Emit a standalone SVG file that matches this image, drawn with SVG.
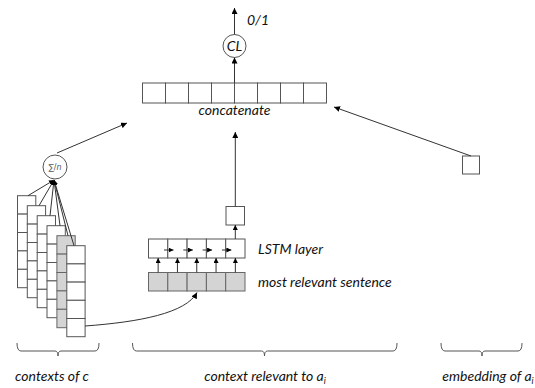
<svg xmlns="http://www.w3.org/2000/svg" width="535" height="388" viewBox="0 0 535 388">
<style>
.c{fill:#fff;stroke:#555;stroke-width:1}
.g{fill:#d4d4d4;stroke:#666;stroke-width:1}
.ln{fill:none;stroke:#333;stroke-width:1}
.br{fill:none;stroke:#555;stroke-width:1}
.t{font-family:Lato,"Liberation Sans",sans-serif;font-style:italic;font-size:14px;fill:#111}
</style>
<defs>
<marker id="ah" viewBox="0 0 10 10" refX="10" refY="5" markerWidth="6" markerHeight="6" orient="auto" markerUnits="userSpaceOnUse">
<path d="M0,0 L10,5 L0,10 z" fill="#000"/>
</marker>
<marker id="as" viewBox="0 0 10 10" refX="10" refY="5" markerWidth="5" markerHeight="5" orient="auto" markerUnits="userSpaceOnUse">
<path d="M0,0 L10,5 L0,10 z" fill="#000"/>
</marker>
</defs>

<g id="stacks">
<g id="stack1"><rect class="c" x="17.5" y="195.7" width="18.3" height="18.4"/><rect class="c" x="17.5" y="214.1" width="18.3" height="18.4"/><rect class="c" x="17.5" y="232.5" width="18.3" height="18.4"/><rect class="c" x="17.5" y="250.9" width="18.3" height="18.4"/><rect class="c" x="17.5" y="269.3" width="18.3" height="18.4"/></g>
<g id="stack2"><rect class="c" x="27.3" y="205.7" width="18.3" height="18.4"/><rect class="c" x="27.3" y="224.1" width="18.3" height="18.4"/><rect class="c" x="27.3" y="242.5" width="18.3" height="18.4"/><rect class="c" x="27.3" y="260.9" width="18.3" height="18.4"/><rect class="c" x="27.3" y="279.3" width="18.3" height="18.4"/></g>
<g id="stack3"><rect class="c" x="37.2" y="215.7" width="18.3" height="18.4"/><rect class="c" x="37.2" y="234.1" width="18.3" height="18.4"/><rect class="c" x="37.2" y="252.5" width="18.3" height="18.4"/><rect class="c" x="37.2" y="270.9" width="18.3" height="18.4"/><rect class="c" x="37.2" y="289.3" width="18.3" height="18.4"/></g>
<g id="stack4"><rect class="c" x="47" y="225.7" width="18.3" height="18.4"/><rect class="c" x="47" y="244.1" width="18.3" height="18.4"/><rect class="c" x="47" y="262.5" width="18.3" height="18.4"/><rect class="c" x="47" y="280.9" width="18.3" height="18.4"/><rect class="c" x="47" y="299.3" width="18.3" height="18.4"/></g>
<g id="stack5"><rect class="g" x="56.9" y="235.7" width="18.3" height="18.4"/><rect class="g" x="56.9" y="254.1" width="18.3" height="18.4"/><rect class="g" x="56.9" y="272.5" width="18.3" height="18.4"/><rect class="g" x="56.9" y="290.9" width="18.3" height="18.4"/><rect class="g" x="56.9" y="309.3" width="18.3" height="18.4"/></g>
<g id="stack6"><rect class="c" x="66.8" y="245.7" width="18.3" height="18.2"/><rect class="c" x="66.8" y="263.9" width="18.3" height="18.2"/><rect class="c" x="66.8" y="282.1" width="18.3" height="18.2"/><rect class="c" x="66.8" y="300.3" width="18.3" height="18.2"/><rect class="c" x="66.8" y="318.5" width="18.3" height="18.2"/></g>
</g>

<g id="sum">
<circle cx="55" cy="167" r="12" fill="#fff" stroke="#555"/>
<text x="55" y="170" text-anchor="middle" font-family="'DejaVu Sans',sans-serif" font-size="8" fill="#555">∑/<tspan font-style="italic">n</tspan></text>
</g>

<g id="concat">
<rect class="c" x="142.5" y="83" width="23" height="20"/><rect class="c" x="165.5" y="83" width="23" height="20"/><rect class="c" x="188.5" y="83" width="23" height="20"/><rect class="c" x="211.5" y="83" width="23" height="20"/><rect class="c" x="234.5" y="83" width="23" height="20"/><rect class="c" x="257.5" y="83" width="23" height="20"/><rect class="c" x="280.5" y="83" width="23" height="20"/><rect class="c" x="303.5" y="83" width="23" height="20"/>
<text class="t" x="234.5" y="115" text-anchor="middle" font-size="13">concatenate</text>
</g>

<g id="cl">
<circle cx="234.5" cy="46" r="11.5" fill="#fff" stroke="#555"/>
<text class="t" x="234.5" y="50.5" text-anchor="middle" font-size="13">CL</text>
</g>
<text class="t" x="247" y="25" font-size="13">0/1</text>

<g id="lstm">
<rect class="c" x="148.5" y="239" width="19.3" height="19"/><rect class="c" x="167.8" y="239" width="19.3" height="19"/><rect class="c" x="187.1" y="239" width="19.3" height="19"/><rect class="c" x="206.4" y="239" width="19.3" height="19"/><rect class="c" x="225.7" y="239" width="19.3" height="19"/>
<text class="t" x="258" y="253.5">LSTM layer</text>
</g>
<g id="sentence">
<rect class="g" x="148.5" y="272.5" width="19.3" height="18.5"/><rect class="g" x="167.8" y="272.5" width="19.3" height="18.5"/><rect class="g" x="187.1" y="272.5" width="19.3" height="18.5"/><rect class="g" x="206.4" y="272.5" width="19.3" height="18.5"/><rect class="g" x="225.7" y="272.5" width="19.3" height="18.5"/>
<text class="t" x="258" y="287">most relevant sentence</text>
</g>
<g id="lstmout"><rect class="c" x="226" y="206.5" width="18.5" height="18.5"/></g>
<g id="embed"><rect class="c" x="462.5" y="156" width="17" height="18"/></g>

<g id="connectors">
<line class="ln" x1="234.5" y1="83" x2="234.5" y2="57.5" marker-end="url(#ah)"/>
<line class="ln" x1="234.5" y1="34.5" x2="234.5" y2="8" marker-end="url(#ah)"/>
<line class="ln" x1="235.3" y1="206.5" x2="235.3" y2="132" marker-end="url(#ah)"/>
<line class="ln" x1="235.3" y1="239" x2="235.3" y2="225" marker-end="url(#as)"/>
<line class="ln" x1="57" y1="153" x2="127" y2="123" marker-end="url(#ah)"/>
<line class="ln" x1="471" y1="156" x2="334" y2="107" marker-end="url(#ah)"/>
<line class="ln" x1="28" y1="195.7" x2="54" y2="180" marker-end="url(#as)"/>
<line class="ln" x1="39" y1="205.7" x2="54" y2="180" marker-end="url(#as)"/>
<line class="ln" x1="50" y1="215.7" x2="54" y2="180" marker-end="url(#as)"/>
<line class="ln" x1="60" y1="225.7" x2="54" y2="180" marker-end="url(#as)"/>
<line class="ln" x1="68" y1="235.7" x2="54" y2="180" marker-end="url(#as)"/>
<line class="ln" x1="74" y1="245.7" x2="54" y2="180" marker-end="url(#as)"/>
<g id="ups">
<line class="ln" x1="158.15" y1="272.5" x2="158.15" y2="258" marker-end="url(#as)"/>
<line class="ln" x1="177.45" y1="272.5" x2="177.45" y2="258" marker-end="url(#as)"/>
<line class="ln" x1="196.75" y1="272.5" x2="196.75" y2="258" marker-end="url(#as)"/>
<line class="ln" x1="216.05" y1="272.5" x2="216.05" y2="258" marker-end="url(#as)"/>
<line class="ln" x1="235.35" y1="272.5" x2="235.35" y2="258" marker-end="url(#as)"/>
</g>
<g id="recur">
<line class="ln" x1="164" y1="250" x2="173.5" y2="250" marker-end="url(#as)"/>
<line class="ln" x1="183.3" y1="250" x2="192.8" y2="250" marker-end="url(#as)"/>
<line class="ln" x1="202.6" y1="250" x2="212.1" y2="250" marker-end="url(#as)"/>
<line class="ln" x1="221.9" y1="250" x2="231.4" y2="250" marker-end="url(#as)"/>
</g>
<path class="ln" d="M85,326 C140,322 186,313 197,292.5" marker-end="url(#ah)"/>
</g>

<g id="brackets">
<path class="br" d="M17,343 Q17,351 21,351 L55,351 Q58,351 58,356 Q58,351 61,351 L95,351 Q99,351 99,343"/>
<path class="br" d="M132.5,343 Q132.5,351 136.5,351 L261.5,351 Q264.5,351 264.5,356 Q264.5,351 267.5,351 L393,351 Q397,351 397,343"/>
<path class="br" d="M441,343 Q441,351 445,351 L479,351 Q482,351 482,356 Q482,351 485,351 L518,351 Q522,351 522,343"/>
</g>
<g id="labels">
<text class="t" x="52" y="381" text-anchor="middle">contexts of  c</text>
<text class="t" x="265" y="381" text-anchor="middle">context relevant to a<tspan font-size="9" dy="3">i</tspan></text>
<text class="t" x="488" y="381" text-anchor="middle">embedding of a<tspan font-size="9" dy="3">i</tspan></text>
</g>
</svg>
